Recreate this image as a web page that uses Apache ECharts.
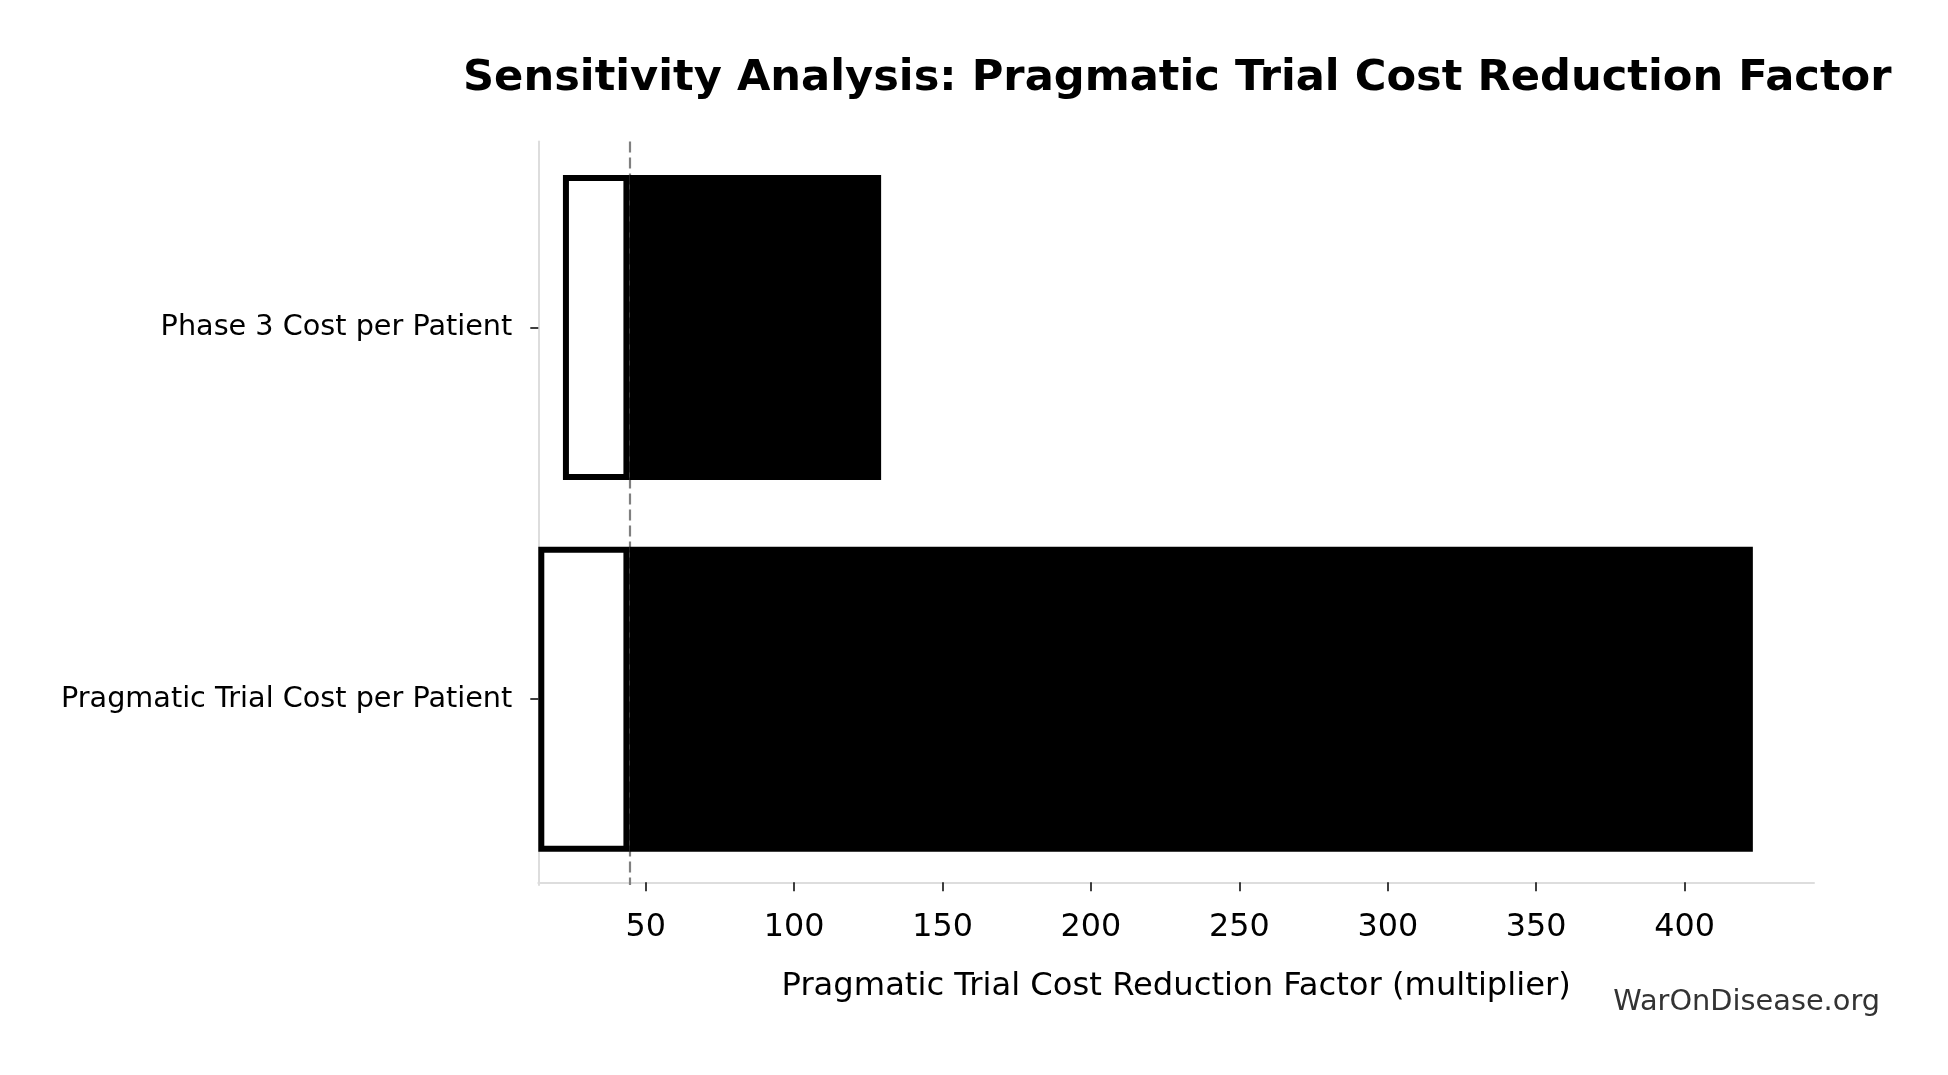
<!DOCTYPE html>
<html>
<head>
<meta charset="utf-8">
<title>Sensitivity Analysis</title>
<script src="https://cdn.jsdelivr.net/npm/echarts@6/dist/echarts.min.js"></script>
<style>
  html, body { margin: 0; padding: 0; background: #fff; }
  #chart { width: 1948px; height: 1075px; }
</style>
</head>
<body>
<div id="chart"></div>
<script>
// tornado data, top row first
var categories = ['Phase 3 Cost per Patient', 'Pragmatic Trial Cost per Patient'];
var lowValues = [22.1, 13.8];
var highValues = [129.3, 423.0];
var baseline = 44.5;
var xTicks = [50, 100, 150, 200, 250, 300, 350, 400];
var xMin = 13.8, xMax = 443.6;

var font = 'DejaVu Sans';

// widths of the two segments either side of the baseline
var lowWidth = [], highWidth = [];
for (var i = 0; i < categories.length; i++) {
    lowWidth.push(baseline - lowValues[i]);
    highWidth.push(highValues[i] - baseline);
}

var option = {
    backgroundColor: '#fff',
    animation: false,
    title: {
        text: 'Sensitivity Analysis: Pragmatic Trial Cost Reduction Factor',
        left: 463,
        top: 57,
        padding: 0,
        textStyle: { fontFamily: font, fontSize: 43.2, fontWeight: 'bold', color: '#000' }
    },
    grid: { left: 538.3, right: 134, top: 141.5, bottom: 190, containLabel: false },
    xAxis: {
        type: 'value',
        min: xMin,
        max: xMax,
        offset: -2.7,
        name: 'Pragmatic Trial Cost Reduction Factor (multiplier)',
        nameLocation: 'middle',
        nameGap: 88,
        nameTextStyle: { fontFamily: font, fontSize: 32.2, color: '#000' },
        splitLine: { show: false },
        axisLine: { show: true, lineStyle: { color: '#dddddd', width: 2 } },
        axisTick: { show: true, customValues: xTicks, length: 9, lineStyle: { color: '#000', width: 1.5 } },
        axisLabel: { customValues: xTicks, fontFamily: font, fontSize: 31.8, color: '#000', margin: 29 }
    },
    yAxis: {
        type: 'category',
        data: categories,
        inverse: true,
        axisLine: { show: true, lineStyle: { color: '#dddddd', width: 2 } },
        axisTick: { show: true, alignWithLabel: true, length: 8, lineStyle: { color: '#000', width: 1.5 } },
        axisLabel: { fontFamily: font, fontSize: 28.7, color: '#000', margin: 26 },
        splitLine: { show: false }
    },
    graphic: [{
        type: 'text',
        x: 1880,
        y: 1003,
        style: {
            text: 'WarOnDisease.org',
            fontFamily: font,
            fontSize: 28.8,
            fill: '#333333',
            textAlign: 'right',
            textVerticalAlign: 'middle'
        }
    }],
    series: [
        {
            // invisible offset bar, also carries the baseline marker behind the bars
            type: 'bar',
            stack: 'tornado',
            data: lowValues,
            barWidth: 305,
            silent: true,
            z: 1,
            itemStyle: { color: 'rgba(0,0,0,0)' },
            markLine: {
                silent: true,
                z: 1,
                symbol: ['none', 'none'],
                label: { show: false },
                lineStyle: { color: '#808080', width: 2.2, type: [11, 5] },
                data: [{ xAxis: baseline }]
            }
        },
        {
            type: 'bar',
            stack: 'tornado',
            data: lowWidth,
            barWidth: 305,
            z: 3,
            itemStyle: { color: '#ffffff', borderColor: '#000', borderWidth: 6 }
        },
        {
            type: 'bar',
            stack: 'tornado',
            data: highWidth,
            barWidth: 305,
            z: 3,
            itemStyle: { color: '#000000', borderColor: '#000', borderWidth: 6 }
        }
    ]
};

var chart = echarts.init(document.getElementById('chart'));
chart.setOption(option);
</script>
</body>
</html>
